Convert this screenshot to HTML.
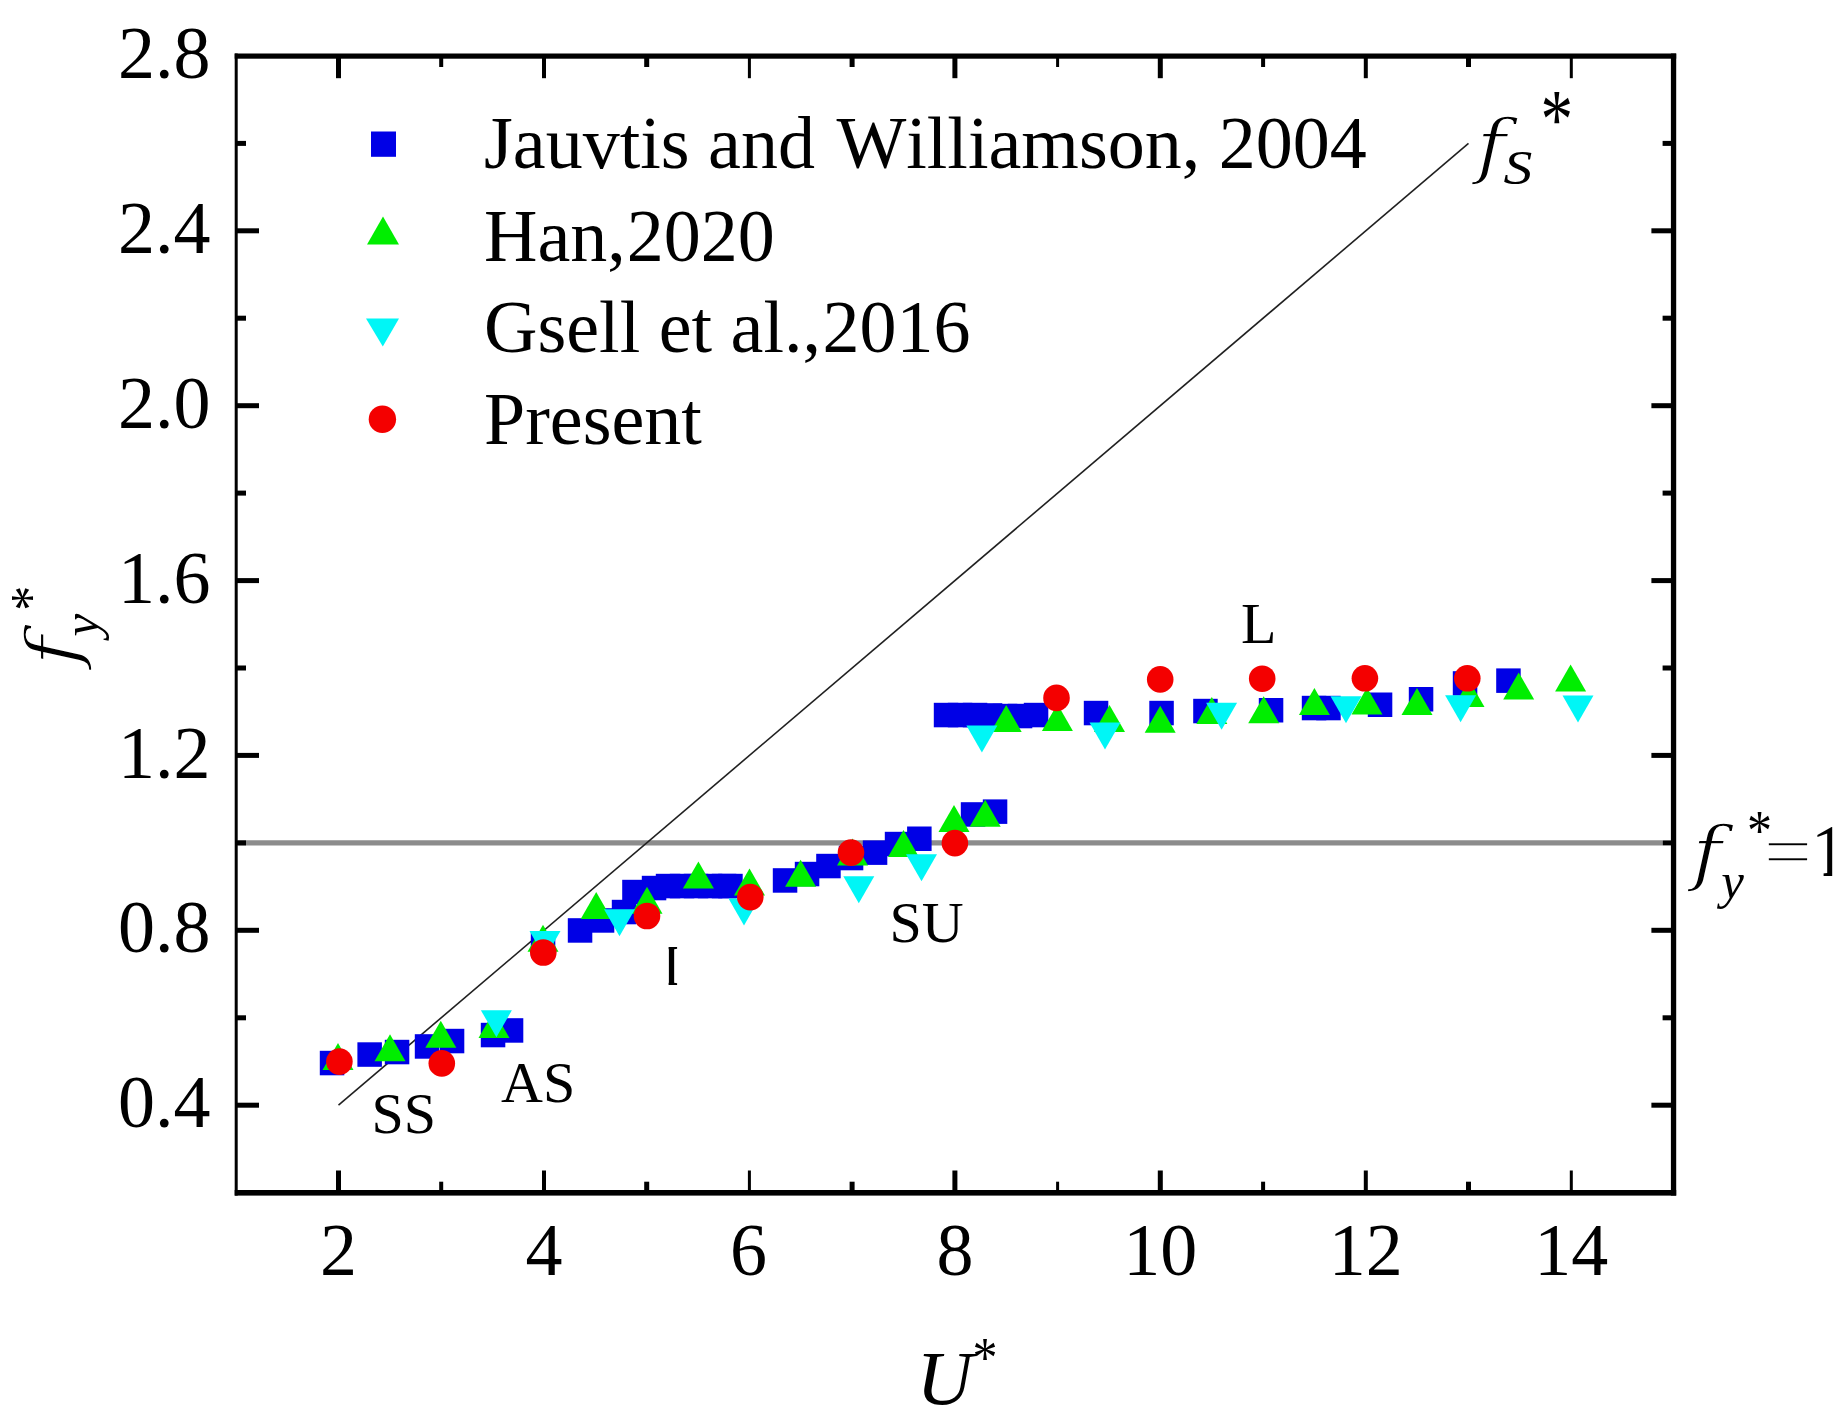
<!DOCTYPE html>
<html lang="en"><head><meta charset="utf-8"><title>fy* versus U*</title>
<style>
html,body{margin:0;padding:0;background:#fff;}
body{width:1847px;height:1421px;overflow:hidden;}
svg{display:block;}
</style></head><body>
<svg width="1847" height="1421" viewBox="0 0 1847 1421">
<rect width="1847" height="1421" fill="#ffffff"/>
<line x1="237.7" y1="842.9" x2="1662.5" y2="842.9" stroke="#8c8c8c" stroke-width="5.2"/>
<line x1="338.5" y1="1105.2" x2="1468.5" y2="143.4" stroke="#202020" stroke-width="1.6"/>
<g>
<rect x="319.8" y="1050.8" width="24.5" height="24.5" fill="#0000e6"/>
<rect x="357.4" y="1042.3" width="24.5" height="24.5" fill="#0000e6"/>
<rect x="384.8" y="1039.8" width="24.5" height="24.5" fill="#0000e6"/>
<rect x="414.8" y="1034.2" width="24.5" height="24.5" fill="#0000e6"/>
<rect x="439.8" y="1028.8" width="24.5" height="24.5" fill="#0000e6"/>
<rect x="480.8" y="1022.8" width="24.5" height="24.5" fill="#0000e6"/>
<rect x="498.8" y="1018.2" width="24.5" height="24.5" fill="#0000e6"/>
<rect x="530.8" y="931.8" width="24.5" height="24.5" fill="#0000e6"/>
<rect x="567.8" y="918.2" width="24.5" height="24.5" fill="#0000e6"/>
<rect x="589.8" y="908.2" width="24.5" height="24.5" fill="#0000e6"/>
<rect x="611.8" y="899.8" width="24.5" height="24.5" fill="#0000e6"/>
<rect x="622.2" y="879.8" width="24.5" height="24.5" fill="#0000e6"/>
<rect x="641.8" y="875.8" width="24.5" height="24.5" fill="#0000e6"/>
<rect x="655.8" y="873.8" width="24.5" height="24.5" fill="#0000e6"/>
<rect x="669.8" y="873.8" width="24.5" height="24.5" fill="#0000e6"/>
<rect x="683.8" y="873.8" width="24.5" height="24.5" fill="#0000e6"/>
<rect x="697.8" y="873.8" width="24.5" height="24.5" fill="#0000e6"/>
<rect x="711.8" y="873.8" width="24.5" height="24.5" fill="#0000e6"/>
<rect x="718.2" y="873.8" width="24.5" height="24.5" fill="#0000e6"/>
<rect x="772.8" y="868.2" width="24.5" height="24.5" fill="#0000e6"/>
<rect x="794.8" y="861.8" width="24.5" height="24.5" fill="#0000e6"/>
<rect x="816.2" y="853.8" width="24.5" height="24.5" fill="#0000e6"/>
<rect x="838.8" y="845.8" width="24.5" height="24.5" fill="#0000e6"/>
<rect x="862.8" y="840.4" width="24.5" height="24.5" fill="#0000e6"/>
<rect x="884.8" y="831.8" width="24.5" height="24.5" fill="#0000e6"/>
<rect x="907.1" y="826.5" width="24.5" height="24.5" fill="#0000e6"/>
<rect x="960.8" y="802.2" width="24.5" height="24.5" fill="#0000e6"/>
<rect x="982.8" y="799.4" width="24.5" height="24.5" fill="#0000e6"/>
<rect x="933.8" y="702.8" width="24.5" height="24.5" fill="#0000e6"/>
<rect x="947.8" y="702.8" width="24.5" height="24.5" fill="#0000e6"/>
<rect x="962.8" y="702.8" width="24.5" height="24.5" fill="#0000e6"/>
<rect x="977.8" y="703.2" width="24.5" height="24.5" fill="#0000e6"/>
<rect x="992.8" y="703.8" width="24.5" height="24.5" fill="#0000e6"/>
<rect x="1007.8" y="703.8" width="24.5" height="24.5" fill="#0000e6"/>
<rect x="1023.8" y="702.8" width="24.5" height="24.5" fill="#0000e6"/>
<rect x="1083.8" y="700.8" width="24.5" height="24.5" fill="#0000e6"/>
<rect x="1149.3" y="700.8" width="24.5" height="24.5" fill="#0000e6"/>
<rect x="1193.2" y="698.8" width="24.5" height="24.5" fill="#0000e6"/>
<rect x="1258.8" y="698.0" width="24.5" height="24.5" fill="#0000e6"/>
<rect x="1301.8" y="695.8" width="24.5" height="24.5" fill="#0000e6"/>
<rect x="1316.2" y="695.8" width="24.5" height="24.5" fill="#0000e6"/>
<rect x="1367.8" y="692.5" width="24.5" height="24.5" fill="#0000e6"/>
<rect x="1408.8" y="687.0" width="24.5" height="24.5" fill="#0000e6"/>
<rect x="1452.8" y="671.2" width="24.5" height="24.5" fill="#0000e6"/>
<rect x="1496.2" y="668.4" width="24.5" height="24.5" fill="#0000e6"/>
</g><g>
<path d="M338.0 1043.0L353.5 1070.0H322.5Z" fill="#00ee00"/>
<path d="M390.0 1034.2L405.5 1061.2H374.5Z" fill="#00ee00"/>
<path d="M440.8 1020.8L456.3 1047.8H425.3Z" fill="#00ee00"/>
<path d="M494.0 1011.0L509.5 1038.0H478.5Z" fill="#00ee00"/>
<path d="M543.0 924.8L558.5 951.8H527.5Z" fill="#00ee00"/>
<path d="M596.2 891.9L611.7 918.9H580.7Z" fill="#00ee00"/>
<path d="M647.0 886.7L662.5 913.7H631.5Z" fill="#00ee00"/>
<path d="M698.4 861.6L713.9 888.6H682.9Z" fill="#00ee00"/>
<path d="M749.5 868.5L765.0 895.5H734.0Z" fill="#00ee00"/>
<path d="M800.6 859.8L816.1 886.8H785.1Z" fill="#00ee00"/>
<path d="M852.5 838.5L868.0 865.5H837.0Z" fill="#00ee00"/>
<path d="M903.5 830.0L919.0 857.0H888.0Z" fill="#00ee00"/>
<path d="M954.0 805.0L969.5 832.0H938.5Z" fill="#00ee00"/>
<path d="M985.2 799.8L1000.7 826.8H969.7Z" fill="#00ee00"/>
<path d="M1006.2 705.0L1021.7 732.0H990.7Z" fill="#00ee00"/>
<path d="M1057.4 704.0L1072.9 731.0H1041.9Z" fill="#00ee00"/>
<path d="M1109.5 705.0L1125.0 732.0H1094.0Z" fill="#00ee00"/>
<path d="M1160.2 705.7L1175.7 732.7H1144.7Z" fill="#00ee00"/>
<path d="M1211.8 697.0L1227.3 724.0H1196.3Z" fill="#00ee00"/>
<path d="M1263.7 696.2L1279.2 723.2H1248.2Z" fill="#00ee00"/>
<path d="M1314.4 688.0L1329.9 715.0H1298.9Z" fill="#00ee00"/>
<path d="M1367.0 687.5L1382.5 714.5H1351.5Z" fill="#00ee00"/>
<path d="M1417.0 688.0L1432.5 715.0H1401.5Z" fill="#00ee00"/>
<path d="M1469.0 680.0L1484.5 707.0H1453.5Z" fill="#00ee00"/>
<path d="M1518.7 672.6L1534.2 699.6H1503.2Z" fill="#00ee00"/>
<path d="M1570.6 664.5L1586.1 691.5H1555.1Z" fill="#00ee00"/>
</g><g>
<path d="M480.9 1010.3H511.9L496.4 1037.3Z" fill="#00f6f6"/>
<path d="M529.5 930.9H560.5L545.0 957.9Z" fill="#00f6f6"/>
<path d="M604.0 909.2H635.0L619.5 936.2Z" fill="#00f6f6"/>
<path d="M728.5 898.5H759.5L744.0 925.5Z" fill="#00f6f6"/>
<path d="M843.3 876.3H874.3L858.8 903.3Z" fill="#00f6f6"/>
<path d="M906.0 854.3H937.0L921.5 881.3Z" fill="#00f6f6"/>
<path d="M966.4 725.5H997.4L981.9 752.5Z" fill="#00f6f6"/>
<path d="M1089.5 722.5H1120.5L1105.0 749.5Z" fill="#00f6f6"/>
<path d="M1206.1 702.8H1237.1L1221.6 729.8Z" fill="#00f6f6"/>
<path d="M1330.5 696.2H1361.5L1346.0 723.2Z" fill="#00f6f6"/>
<path d="M1445.1 695.2H1476.1L1460.6 722.2Z" fill="#00f6f6"/>
<path d="M1562.5 695.6H1593.5L1578.0 722.6Z" fill="#00f6f6"/>
</g><g>
<circle cx="339.4" cy="1061.6" r="13.3" fill="#f40000"/>
<circle cx="441.8" cy="1063.4" r="13.3" fill="#f40000"/>
<circle cx="543.3" cy="952.5" r="13.3" fill="#f40000"/>
<circle cx="647.0" cy="916.0" r="13.3" fill="#f40000"/>
<circle cx="750.3" cy="897.1" r="13.3" fill="#f40000"/>
<circle cx="851.0" cy="852.6" r="13.3" fill="#f40000"/>
<circle cx="954.9" cy="843.1" r="13.3" fill="#f40000"/>
<circle cx="1056.5" cy="697.9" r="13.3" fill="#f40000"/>
<circle cx="1160.2" cy="679.4" r="13.3" fill="#f40000"/>
<circle cx="1262.2" cy="678.7" r="13.3" fill="#f40000"/>
<circle cx="1364.9" cy="678.3" r="13.3" fill="#f40000"/>
<circle cx="1467.3" cy="678.3" r="13.3" fill="#f40000"/>
</g>
<g fill="#000">
<rect x="234.7" y="53.5" width="3.0" height="1142.1"/>
<rect x="1670.9" y="53.5" width="5.3" height="1142.1"/>
<rect x="234.7" y="53.5" width="1441.5" height="5.2"/>
<rect x="234.7" y="1190.0" width="1441.5" height="5.6"/>
<rect x="336.0" y="1170.5" width="5" height="20.5"/>
<rect x="336.0" y="57.7" width="5" height="20.5"/>
<rect x="439.2" y="1181.7" width="4" height="9.3"/>
<rect x="439.2" y="57.7" width="4" height="9.3"/>
<rect x="542.0" y="1170.5" width="4" height="20.5"/>
<rect x="542.0" y="57.7" width="4" height="20.5"/>
<rect x="644.2" y="1181.7" width="5" height="9.3"/>
<rect x="644.2" y="57.7" width="5" height="9.3"/>
<rect x="747.9" y="1170.5" width="3" height="20.5"/>
<rect x="747.9" y="57.7" width="3" height="20.5"/>
<rect x="849.6" y="1181.7" width="5" height="9.3"/>
<rect x="849.6" y="57.7" width="5" height="9.3"/>
<rect x="952.4" y="1170.5" width="5" height="20.5"/>
<rect x="952.4" y="57.7" width="5" height="20.5"/>
<rect x="1056.1" y="1181.7" width="3" height="9.3"/>
<rect x="1056.1" y="57.7" width="3" height="9.3"/>
<rect x="1157.8" y="1170.5" width="5" height="20.5"/>
<rect x="1157.8" y="57.7" width="5" height="20.5"/>
<rect x="1261.1" y="1181.7" width="4" height="9.3"/>
<rect x="1261.1" y="57.7" width="4" height="9.3"/>
<rect x="1363.8" y="1170.5" width="4" height="20.5"/>
<rect x="1363.8" y="57.7" width="4" height="20.5"/>
<rect x="1466.0" y="1181.7" width="5" height="9.3"/>
<rect x="1466.0" y="57.7" width="5" height="9.3"/>
<rect x="1569.8" y="1170.5" width="3" height="20.5"/>
<rect x="1569.8" y="57.7" width="3" height="20.5"/>
<rect x="236.7" y="1102.7" width="22.3" height="5"/>
<rect x="1651.4" y="1102.7" width="20.5" height="5"/>
<rect x="236.7" y="1015.3" width="9.3" height="5"/>
<rect x="1662.6" y="1015.3" width="9.3" height="5"/>
<rect x="236.7" y="927.8" width="22.3" height="5"/>
<rect x="1651.4" y="927.8" width="20.5" height="5"/>
<rect x="236.7" y="840.4" width="9.3" height="5"/>
<rect x="1662.6" y="840.4" width="9.3" height="5"/>
<rect x="236.7" y="752.9" width="22.3" height="5"/>
<rect x="1651.4" y="752.9" width="20.5" height="5"/>
<rect x="236.7" y="665.5" width="9.3" height="5"/>
<rect x="1662.6" y="665.5" width="9.3" height="5"/>
<rect x="236.7" y="578.1" width="22.3" height="5"/>
<rect x="1651.4" y="578.1" width="20.5" height="5"/>
<rect x="236.7" y="490.6" width="9.3" height="5"/>
<rect x="1662.6" y="490.6" width="9.3" height="5"/>
<rect x="236.7" y="403.2" width="22.3" height="5"/>
<rect x="1651.4" y="403.2" width="20.5" height="5"/>
<rect x="236.7" y="315.7" width="9.3" height="5"/>
<rect x="1662.6" y="315.7" width="9.3" height="5"/>
<rect x="236.7" y="228.3" width="22.3" height="5"/>
<rect x="1651.4" y="228.3" width="20.5" height="5"/>
<rect x="236.7" y="140.9" width="9.3" height="5"/>
<rect x="1662.6" y="140.9" width="9.3" height="5"/>
</g>
<g font-family="'Liberation Serif', serif" fill="#000" font-size="74">
<text x="210.4" y="1127.3" text-anchor="end">0.4</text>
<text x="210.4" y="952.4" text-anchor="end">0.8</text>
<text x="210.4" y="777.5" text-anchor="end">1.2</text>
<text x="210.4" y="602.7" text-anchor="end">1.6</text>
<text x="210.4" y="427.8" text-anchor="end">2.0</text>
<text x="210.4" y="252.9" text-anchor="end">2.4</text>
<text x="210.4" y="78.0" text-anchor="end">2.8</text>
<text x="338.5" y="1274.6" text-anchor="middle">2</text>
<text x="544.0" y="1274.6" text-anchor="middle">4</text>
<text x="748.6" y="1274.6" text-anchor="middle">6</text>
<text x="954.9" y="1274.6" text-anchor="middle">8</text>
<text x="1160.3" y="1274.6" text-anchor="middle">10</text>
<text x="1365.8" y="1274.6" text-anchor="middle">12</text>
<text x="1571.3" y="1274.6" text-anchor="middle">14</text>
<text x="484" y="168" style="font-kerning:none">Jauvtis and <tspan dx="3">Williamson</tspan>, 2004</text>
<text x="484" y="260.6" style="font-kerning:none">Han,<tspan dx="1">2020</tspan></text>
<text x="484" y="351.5" style="font-kerning:none">Gsell et al.,<tspan dx="1.5">2016</tspan></text>
<text x="484" y="444" style="font-kerning:none">Present</text>
<g font-size="58">
<text x="371.5" y="1132.6">SS</text>
<text x="501" y="1102">AS</text>
<clipPath id="ic"><rect x="668.6" y="940" width="8.5" height="50"/></clipPath>
<text x="661.8" y="984.8" clip-path="url(#ic)">I</text>
<text x="889.5" y="942">SU</text>
<text x="1241" y="642.7">L</text>
</g>
<text transform="translate(1476.3 169.8) scale(1.14 1)" font-size="71" font-style="italic" font-family="'DejaVu Serif', 'Liberation Serif', serif" stroke="#fff" stroke-width="1.5">f</text>
<text transform="translate(1503.5 184.2) scale(1.2 1)" font-size="48" font-style="italic">S</text>
<text transform="translate(1540.5 147.5) scale(0.88 1.14)" font-size="74">*</text>
<text transform="translate(1691.9 876.6) scale(1.14 1)" font-size="71" font-style="italic" font-family="'DejaVu Serif', 'Liberation Serif', serif" stroke="#fff" stroke-width="1.5">f</text><text transform="translate(1721.2 897.8) scale(1 1)" font-size="51" font-style="italic">y</text><text transform="translate(1746.9 849.6) scale(1 1.14)" font-size="50">*</text>
<text transform="translate(1763.4 875.6) scale(1.17 1)" stroke="#fff" stroke-width="1.7">=</text>
<clipPath id="oc"><path d="M1816 820H1832.2V880H1823.6V869H1816Z"/></clipPath>
<text x="1810.7" y="875.8" clip-path="url(#oc)">1</text>
<g transform="translate(76.7,665.7) rotate(-90)"><text transform="translate(0.0 0.0) scale(1.14 1)" font-size="71" font-style="italic" font-family="'DejaVu Serif', 'Liberation Serif', serif" stroke="#fff" stroke-width="1.5">f</text><text transform="translate(29.3 21.2) scale(1 1)" font-size="51" font-style="italic">y</text><text transform="translate(55.0 -27.0) scale(1 1.14)" font-size="50">*</text></g>
<text transform="translate(916.5 1404.3) scale(1.05 1.02)" font-size="74" font-style="italic">U</text>
<text transform="translate(972.6 1376.5) scale(1 1.14)" font-size="50">*</text>
</g>
<rect x="371" y="131.5" width="25" height="25.3" fill="#0000e6"/><path d="M383 216.6L399 244.4H367Z" fill="#00ee00"/><path d="M366 318.6H399L382.8 346.4Z" fill="#00f6f6"/><circle cx="382.4" cy="419.3" r="13.7" fill="#f40000"/>
</svg>
</body></html>
